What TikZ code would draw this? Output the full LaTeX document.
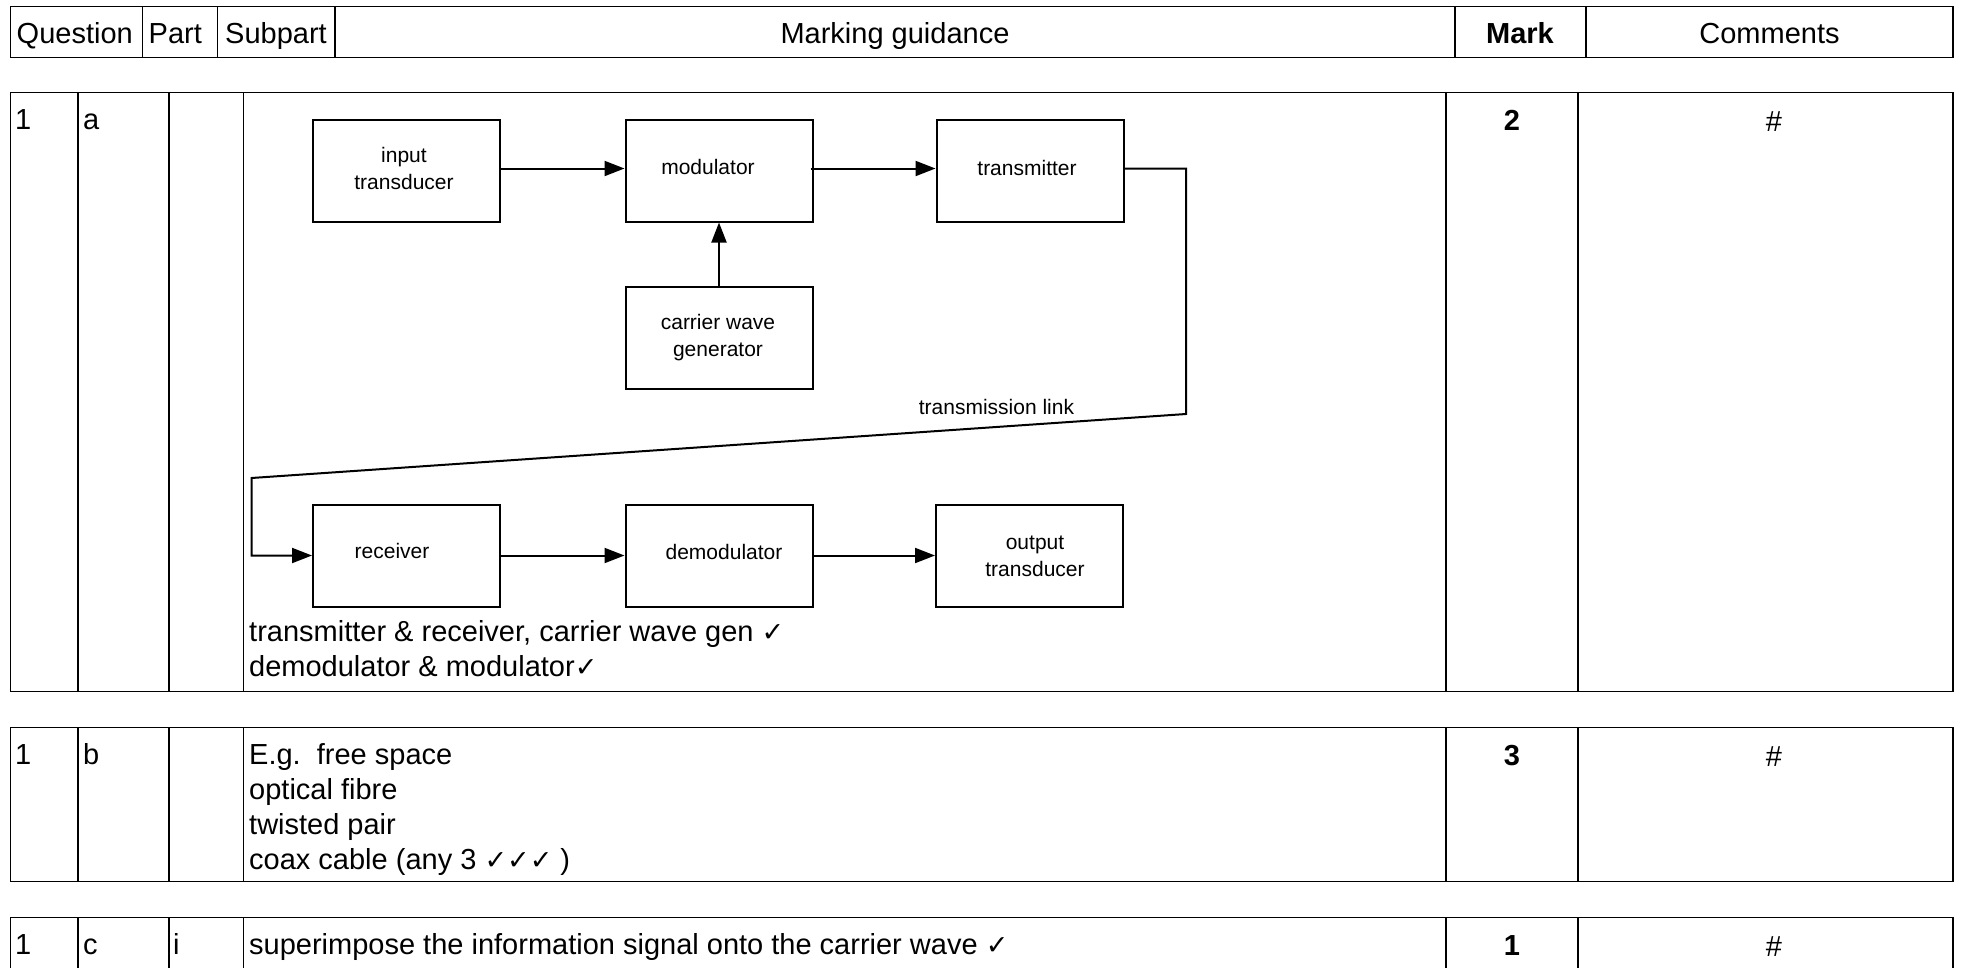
\documentclass[tikz,border=0pt]{standalone}
\usepackage{fontspec}
\setmainfont{Liberation Sans}
\newfontfamily\tickfont{DejaVu Sans}
\usetikzlibrary{arrows.meta}
\newcommand{\tk}{{\tickfont\fontsize{27}{30}\selectfont ✓}}

\begin{document}
\begin{tikzpicture}[x=1pt,y=-1pt,>={Triangle[length=20pt,width=15pt]},
    cell/.style={line width=1.3pt},
    block/.style={draw,line width=2pt,minimum width=187pt,minimum height=102pt,inner sep=0pt},
    lbl/.style={font=\fontsize{21}{27}\selectfont,align=center,inner sep=0pt},
    txt/.style={font=\fontsize{29}{35}\selectfont,anchor=base west,inner sep=0pt,align=left},
    mid/.style={font=\fontsize{29}{35}\selectfont,anchor=base,inner sep=0pt},
    arr/.style={->,line width=2pt}]
    \fill[white] (0,0) rectangle (1963,967);

    % Header row
    \draw[cell] (10.5,6.5) rectangle (1953,57.5);
    \foreach \x in {142.5,217.5,335,1455,1586}
        \draw[cell] (\x,6.5) -- (\x,57.5);
    \node[txt] (hq) at (16.5,43.5) {Question};
    \node[txt] (hp) at (148.5,43.5) {Part};
    \node[txt] (hs) at (225,43.5) {Subpart};
    \node[mid] (hg) at (895,43.5) {Marking guidance};
    \node[mid,font=\fontsize{29}{35}\selectfont\bfseries] (hm) at (1520,43.5) {Mark};
    \node[mid] (hc) at (1769.5,43.5) {Comments};

    % Row 1a
    \draw[cell] (10.5,92.5) rectangle (1953,691.5);
    \foreach \x in {78,169,243.5,1446,1578}
        \draw[cell] (\x,92.5) -- (\x,691.5);
    \node[txt] (qa) at (15,129.5) {1};
    \node[txt] (pa) at (83,129.5) {a};
    \node[mid,font=\fontsize{29}{35}\selectfont\bfseries] (ma) at (1512,130.5) {2};
    \node[mid] (ca) at (1774,131.5) {\#};
    % last line sits on the anchor
    \node[txt] (ga) at (249,676) {transmitter \& receiver, carrier wave gen \tk\\demodulator \& modulator\tk};

    % Block diagram
    \node[block] (inp) at (406.5,170.5) {};
    \node[lbl] (inpl) at (404,168) {input\\transducer};
    \node[block] (mod) at (719,170.5) {};
    \node[lbl] (modl) at (708,166.5) {modulator};
    \node[block] (tx) at (1030,170.5) {};
    \node[lbl] (txl) at (1027,167.5) {transmitter};
    \node[block] (cwg) at (719,338) {};
    \node[lbl] (cwgl) at (718,338) {carrier wave\\generator};
    \node[block] (rx) at (406.5,555.5) {};
    \node[lbl] (rxl) at (392,551) {receiver};
    \node[block] (dem) at (719,555.5) {};
    \node[lbl] (deml) at (724,552) {demodulator};
    \node[block] (out) at (1029.5,555.5) {};
    \node[lbl] (outl) at (1035,556) {output\\transducer};

    \draw[arr] ([yshift=2pt]inp.east) -- ([yshift=2pt]mod.west);
    \draw[arr] ([yshift=2pt,xshift=-3pt]mod.east) -- ([yshift=2pt]tx.west);
    \draw[arr] (cwg) -- (mod);
    \draw[arr] (rx) -- (dem);
    \draw[arr] (dem) -- (out);

    % Transmission link
    \coordinate (c1) at (1186,168.5);
    \coordinate (c2) at (1186,414);
    \coordinate (c3) at (251.5,478);
    \coordinate (c4) at (251.5,555.5);
    \draw[arr] ([yshift=2pt]tx.east) -- (c1) -- (c2) -- (c3) -- (c4) -- (rx.west);
    \node[lbl] (link) at (996.5,407) {transmission link};

    % Row 1b
    \draw[cell] (10.5,727.5) rectangle (1953,881.5);
    \foreach \x in {78,169,243.5,1446,1578}
        \draw[cell] (\x,727.5) -- (\x,881.5);
    \node[txt] (qb) at (15,764.5) {1};
    \node[txt] (pb) at (83,764.5) {b};
    \node[mid,font=\fontsize{29}{35}\selectfont\bfseries] (mb) at (1512,765.5) {3};
    \node[mid] (cb) at (1774,766.5) {\#};
    \node[txt] (gb) at (249,869.5) {E.g.\ \ free space\\optical fibre\\twisted pair\\coax cable (any 3 \tk\tk\tk\ )};

    % Row 1c
    \draw[cell] (10.5,980) -- (10.5,917.5) -- (1953,917.5) -- (1953,980);
    \foreach \x in {78,169,243.5,1446,1578}
        \draw[cell] (\x,917.5) -- (\x,980);
    \node[txt] (qc) at (15,954.5) {1};
    \node[txt] (pc) at (83,954.5) {c};
    \node[txt] (sc) at (173,954.5) {i};
    \node[txt] (gc) at (249,954.5) {superimpose the information signal onto the carrier wave \tk};
    \node[mid,font=\fontsize{29}{35}\selectfont\bfseries] (mc) at (1512,955.5) {1};
    \node[mid] (cc) at (1774,956.5) {\#};

    \pgfresetboundingbox
    \useasboundingbox (0,0) rectangle (1963,967);
\end{tikzpicture}
\end{document}
